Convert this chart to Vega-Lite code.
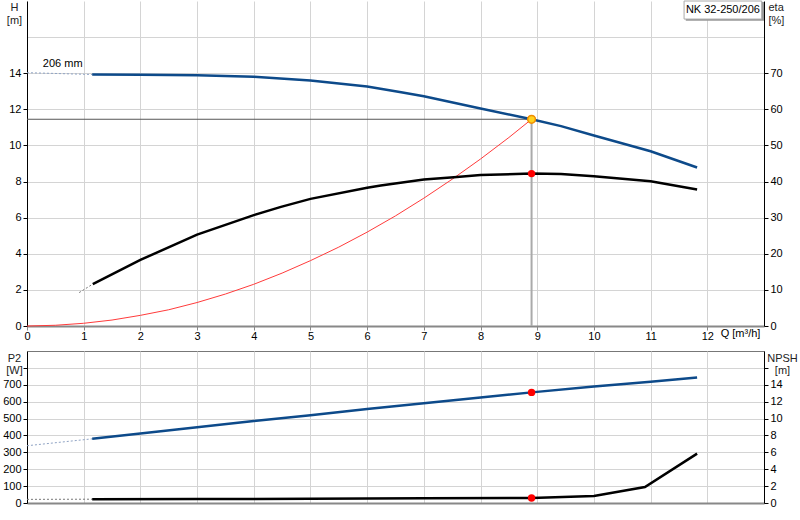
{
  "$schema": "https://vega.github.io/schema/vega-lite/v6.json",
  "padding": {"left": 2, "top": 0, "right": 0, "bottom": 0},
  "spacing": 9,
  "config": {
    "font": "Liberation Sans",
    "view": {"stroke": null},
    "axis": {
      "labelFont": "Liberation Sans", "labelFontSize": 11, "labelColor": "#000", "labelOverlap": false,
      "titleFont": "Liberation Sans", "titleFontSize": 11, "titleFontWeight": "normal", "titleColor": "#222",
      "tickColor": "#000", "tickSize": 4, "labelPadding": 2, "format": "d",
      "domainColor": "#000", "gridColor": "#d4d4d4", "gridWidth": 1
    }
  },
  "datasets": {
    "H": [
      {"Q": 1.15, "v": 13.93}, {"Q": 2, "v": 13.92}, {"Q": 3, "v": 13.89}, {"Q": 4, "v": 13.8},
      {"Q": 5, "v": 13.6}, {"Q": 6, "v": 13.27}, {"Q": 6.6, "v": 12.95}, {"Q": 7, "v": 12.72},
      {"Q": 8, "v": 12.05}, {"Q": 8.9, "v": 11.45}, {"Q": 9.42, "v": 11.07}, {"Q": 10, "v": 10.55},
      {"Q": 11, "v": 9.68}, {"Q": 11.82, "v": 8.78}
    ],
    "Hext": [{"Q": 0, "v": 14.03}, {"Q": 1.15, "v": 13.93}],
    "sys": [
      {"Q": 0, "v": 0}, {"Q": 0.5, "v": 0.04}, {"Q": 1, "v": 0.15}, {"Q": 1.5, "v": 0.33},
      {"Q": 2, "v": 0.59}, {"Q": 2.5, "v": 0.9}, {"Q": 3, "v": 1.3}, {"Q": 3.5, "v": 1.77},
      {"Q": 4, "v": 2.31}, {"Q": 4.5, "v": 2.93}, {"Q": 5, "v": 3.62}, {"Q": 5.5, "v": 4.37},
      {"Q": 6, "v": 5.2}, {"Q": 6.5, "v": 6.1}, {"Q": 7, "v": 7.08}, {"Q": 7.5, "v": 8.13},
      {"Q": 8, "v": 9.25}, {"Q": 8.5, "v": 10.44}, {"Q": 8.9, "v": 11.45}
    ],
    "eta": [
      {"Q": 1.16, "v": 11.6}, {"Q": 2, "v": 18.3}, {"Q": 3, "v": 25.3}, {"Q": 4, "v": 30.7},
      {"Q": 4.48, "v": 33}, {"Q": 5, "v": 35.2}, {"Q": 6, "v": 38.3}, {"Q": 6.24, "v": 38.9},
      {"Q": 7, "v": 40.6}, {"Q": 7.53, "v": 41.2}, {"Q": 8, "v": 41.8}, {"Q": 8.9, "v": 42.2},
      {"Q": 9.42, "v": 42.1}, {"Q": 10, "v": 41.5}, {"Q": 11, "v": 40.1}, {"Q": 11.82, "v": 37.8}
    ],
    "etaext": [{"Q": 0.92, "v": 9.25}, {"Q": 1.16, "v": 11.6}],
    "P2": [
      {"Q": 1.15, "v": 380}, {"Q": 2, "v": 412}, {"Q": 3, "v": 448}, {"Q": 4, "v": 485},
      {"Q": 5, "v": 520}, {"Q": 6, "v": 556}, {"Q": 7, "v": 590}, {"Q": 8, "v": 624},
      {"Q": 8.9, "v": 655}, {"Q": 10, "v": 690}, {"Q": 11, "v": 718}, {"Q": 11.82, "v": 743}
    ],
    "P2ext": [{"Q": 0, "v": 339}, {"Q": 1.15, "v": 380}],
    "NPSH": [
      {"Q": 1.15, "v": 0.45}, {"Q": 3, "v": 0.47}, {"Q": 5, "v": 0.5}, {"Q": 7, "v": 0.55},
      {"Q": 8.9, "v": 0.6}, {"Q": 10, "v": 0.82}, {"Q": 10.9, "v": 1.9}, {"Q": 11.82, "v": 5.85}
    ],
    "NPSHext": [{"Q": 0, "v": 0.43}, {"Q": 1.15, "v": 0.45}],
    "opH": [{"Q": 8.9, "v": 11.45}],
    "opEta": [{"Q": 8.9, "v": 42.2}],
    "opP2": [{"Q": 8.9, "v": 655}],
    "opNPSH": [{"Q": 8.9, "v": 0.6}]
  },
  "vconcat": [
    {
      "width": 737,
      "height": 325,
      "resolve": {"scale": {"y": "independent"}},
      "layer": [
        {
          "layer": [
            {
              "data": {"name": "Hext"},
              "mark": {"type": "line", "color": "#8fa3c4", "strokeWidth": 1, "strokeDash": [2, 2]},
              "encoding": {
                "x": {"field": "Q", "type": "quantitative", "scale": {"domain": [0, 13], "nice": false},
                  "axis": {"values": [0, 1, 2, 3, 4, 5, 6, 7, 8, 9, 10, 11, 12], "tickCount": 30, "grid": true, "format": "d",
                    "domainColor": "#888", "domainWidth": 2, "tickColor": "#888", "labelFlush": false, "labelPadding": 0,
                    "title": "Q [m³/h]", "titleX": 713, "titleY": 7, "titleAlign": "center", "titleBaseline": "middle", "titleColor": "#000"}},
                "y": {"field": "v", "type": "quantitative", "scale": {"domain": [0, 18], "nice": false},
                  "axis": {"values": [0, 2, 4, 6, 8, 10, 12, 14, 16], "tickCount": 20, "grid": true, "format": "d",
                    "labelExpr": "datum.value <= 14 ? datum.label : ''",
                    "tickOpacity": {"condition": {"test": "datum.value > 14", "value": 0}, "value": 1},
                    "title": ["H", "[m]"], "titleAngle": 0, "titleX": -13, "titleY": 0,
                    "titleAlign": "center", "titleBaseline": "top", "titleLineHeight": 13}}
              }
            },
            {
              "data": {"name": "sys"},
              "mark": {"type": "line", "color": "#ff3b3b", "strokeWidth": 1},
              "encoding": {
                "x": {"field": "Q", "type": "quantitative", "scale": {"domain": [0, 13], "nice": false}},
                "y": {"field": "v", "type": "quantitative", "scale": {"domain": [0, 18], "nice": false}}
              }
            },
            {
              "data": {"name": "opH"},
              "mark": {"type": "rule", "color": "#555", "strokeWidth": 1},
              "encoding": {
                "x": {"field": "Q", "type": "quantitative"},
                "x2": {"datum": 0},
                "y": {"field": "v", "type": "quantitative", "scale": {"domain": [0, 18], "nice": false}}
              }
            },
            {
              "data": {"name": "opH"},
              "mark": {"type": "rule", "color": "#aaa", "strokeWidth": 2},
              "encoding": {
                "x": {"field": "Q", "type": "quantitative"},
                "y": {"field": "v", "type": "quantitative", "scale": {"domain": [0, 18], "nice": false}},
                "y2": {"datum": 0}
              }
            },
            {
              "data": {"name": "H"},
              "mark": {"type": "line", "color": "#0d4a8a", "strokeWidth": 2.5},
              "encoding": {
                "x": {"field": "Q", "type": "quantitative"},
                "y": {"field": "v", "type": "quantitative", "scale": {"domain": [0, 18], "nice": false}}
              }
            },
            {
              "data": {"name": "opH"},
              "mark": {"type": "point", "filled": true, "fill": "#ffd21f", "stroke": "#f08c00", "strokeWidth": 1.5, "size": 60, "opacity": 1},
              "encoding": {
                "x": {"field": "Q", "type": "quantitative"},
                "y": {"field": "v", "type": "quantitative", "scale": {"domain": [0, 18], "nice": false}}
              }
            },
            {
              "data": {"values": [{}]},
              "mark": {"type": "text", "text": "206 mm", "fontSize": 11, "color": "#000", "font": "Liberation Sans"},
              "encoding": {
                "x": {"datum": 0.63, "type": "quantitative"},
                "y": {"datum": 14.5, "type": "quantitative", "scale": {"domain": [0, 18], "nice": false}}
              }
            },
            {
              "data": {"values": [{}]},
              "mark": {"type": "rect", "fill": "#999"},
              "encoding": {
                "x": {"datum": 11.62, "type": "quantitative"},
                "x2": {"datum": 13.0},
                "y": {"datum": 16.9, "type": "quantitative", "scale": {"domain": [0, 18], "nice": false}},
                "y2": {"datum": 17.95}
              }
            },
            {
              "data": {"values": [{}]},
              "mark": {"type": "rect", "fill": "#fff", "stroke": "#aaa", "strokeWidth": 1},
              "encoding": {
                "x": {"datum": 11.59, "type": "quantitative"},
                "x2": {"datum": 12.96},
                "y": {"datum": 17.0, "type": "quantitative", "scale": {"domain": [0, 18], "nice": false}},
                "y2": {"datum": 18.0}
              }
            },
            {
              "data": {"values": [{}]},
              "mark": {"type": "text", "text": "NK 32-250/206", "fontSize": 11, "color": "#000", "font": "Liberation Sans"},
              "encoding": {
                "x": {"datum": 12.275, "type": "quantitative"},
                "y": {"datum": 17.5, "type": "quantitative", "scale": {"domain": [0, 18], "nice": false}}
              }
            }
          ]
        },
        {
          "layer": [
            {
              "data": {"name": "etaext"},
              "mark": {"type": "line", "color": "#777", "strokeWidth": 1, "strokeDash": [2, 2]},
              "encoding": {
                "x": {"field": "Q", "type": "quantitative"},
                "y": {"field": "v", "type": "quantitative", "scale": {"domain": [0, 90], "nice": false},
                  "axis": {"orient": "right", "values": [0, 10, 20, 30, 40, 50, 60, 70], "tickCount": 20, "grid": false, "format": "d",
                    "title": ["eta", "[%]"], "titleAngle": 0, "titleX": 4, "titleY": 0,
                    "titleAlign": "left", "titleBaseline": "top", "titleLineHeight": 13}}
              }
            },
            {
              "data": {"name": "eta"},
              "mark": {"type": "line", "color": "#000", "strokeWidth": 2.5},
              "encoding": {
                "x": {"field": "Q", "type": "quantitative"},
                "y": {"field": "v", "type": "quantitative", "scale": {"domain": [0, 90], "nice": false}}
              }
            },
            {
              "data": {"name": "opEta"},
              "mark": {"type": "point", "filled": true, "color": "#ff0000", "size": 55, "opacity": 1},
              "encoding": {
                "x": {"field": "Q", "type": "quantitative"},
                "y": {"field": "v", "type": "quantitative", "scale": {"domain": [0, 90], "nice": false}}
              }
            }
          ]
        }
      ]
    },
    {
      "width": 737,
      "height": 152,
      "view": {"stroke": "#777", "strokeWidth": 1},
      "resolve": {"scale": {"y": "independent"}},
      "layer": [
        {
          "layer": [
            {
              "data": {"name": "P2ext"},
              "mark": {"type": "line", "color": "#8fa3c4", "strokeWidth": 1, "strokeDash": [2, 2]},
              "encoding": {
                "x": {"field": "Q", "type": "quantitative", "scale": {"domain": [0, 13], "nice": false},
                  "axis": {"values": [0, 1, 2, 3, 4, 5, 6, 7, 8, 9, 10, 11, 12], "tickCount": 30, "grid": true, "labels": false, "ticks": false,
                    "domainColor": "#888", "domainWidth": 2, "title": null}},
                "y": {"field": "v", "type": "quantitative", "scale": {"domain": [0, 900], "nice": false},
                  "axis": {"values": [0, 100, 200, 300, 400, 500, 600, 700, 800], "tickCount": 20, "grid": true, "format": "d",
                    "labelExpr": "datum.value <= 700 ? datum.label : ''",
                    "title": ["P2", "[W]"], "titleAngle": 0, "titleX": -13, "titleY": 1,
                    "titleAlign": "center", "titleBaseline": "top", "titleLineHeight": 12}}
              }
            },
            {
              "data": {"name": "P2"},
              "mark": {"type": "line", "color": "#0d4a8a", "strokeWidth": 2.5},
              "encoding": {
                "x": {"field": "Q", "type": "quantitative"},
                "y": {"field": "v", "type": "quantitative", "scale": {"domain": [0, 900], "nice": false}}
              }
            },
            {
              "data": {"name": "opP2"},
              "mark": {"type": "point", "filled": true, "color": "#ff0000", "size": 55, "opacity": 1},
              "encoding": {
                "x": {"field": "Q", "type": "quantitative"},
                "y": {"field": "v", "type": "quantitative", "scale": {"domain": [0, 900], "nice": false}}
              }
            }
          ]
        },
        {
          "layer": [
            {
              "data": {"name": "NPSHext"},
              "mark": {"type": "line", "color": "#777", "strokeWidth": 1, "strokeDash": [2, 2]},
              "encoding": {
                "x": {"field": "Q", "type": "quantitative"},
                "y": {"field": "v", "type": "quantitative", "scale": {"domain": [0, 18], "nice": false},
                  "axis": {"orient": "right", "values": [0, 2, 4, 6, 8, 10, 12, 14, 16], "tickCount": 20, "grid": false, "format": "d",
                    "labelExpr": "datum.value <= 14 ? datum.label : ''",
                    "title": ["NPSH", "[m]"], "titleAngle": 0, "titleX": 18, "titleY": 1,
                    "titleAlign": "center", "titleBaseline": "top", "titleLineHeight": 12}}
              }
            },
            {
              "data": {"name": "NPSH"},
              "mark": {"type": "line", "color": "#000", "strokeWidth": 2.5},
              "encoding": {
                "x": {"field": "Q", "type": "quantitative"},
                "y": {"field": "v", "type": "quantitative", "scale": {"domain": [0, 18], "nice": false}}
              }
            },
            {
              "data": {"name": "opNPSH"},
              "mark": {"type": "point", "filled": true, "color": "#ff0000", "size": 55, "opacity": 1},
              "encoding": {
                "x": {"field": "Q", "type": "quantitative"},
                "y": {"field": "v", "type": "quantitative", "scale": {"domain": [0, 18], "nice": false}}
              }
            }
          ]
        }
      ]
    }
  ]
}
